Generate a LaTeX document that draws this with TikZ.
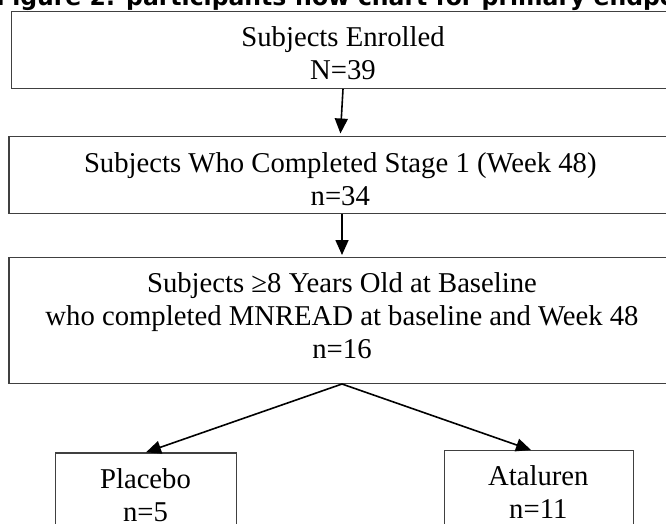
\documentclass[tikz,border=0pt]{standalone}
\usepackage{fontspec}
\setmainfont{Liberation Serif}
\newfontfamily\captionfont{DejaVu Sans}
\usepackage{tikz}
\usetikzlibrary{arrows.meta}
\usepackage{xcolor}
\definecolor{bx}{HTML}{404040}
\definecolor{tx}{HTML}{000000}
\tikzset{
  flowbox/.style = {draw=bx, line width=1.3pt, inner sep=0pt, anchor=north west},
  flowtext/.style = {text=tx, inner sep=0pt, align=center, anchor=base, font=\fontsize{28.7}{33}\selectfont},
  flowarrow/.style = {draw=tx, line width=1.6pt, -{Triangle[length=15pt, width=13pt]}},
}

\begin{document}
\begin{tikzpicture}[x=1pt, y=-1pt]
  \useasboundingbox (0,0) rectangle (666,523);
  \clip (0,0) rectangle (666,523);
  \node[anchor = base west, inner sep = 0pt, font = \captionfont\bfseries\fontsize{23.5}{28}\selectfont] (title) at (-4,5.5) {Figure 2: participants flow chart for primary endpoint};

  \node[flowbox, minimum width = 669pt, minimum height = 77pt] (enrolled) at (11,10.7) {};
  \node[flowbox, minimum width = 672pt, minimum height = 76.7pt] (stage) at (8.3,136) {};
  \node[flowbox, minimum width = 672pt, minimum height = 125.7pt] (aged) at (8.3,257) {};
  \node[flowbox, minimum width = 180.7pt, minimum height = 120pt] (placebo) at (55,452.3) {};
  \node[flowbox, minimum width = 188.7pt, minimum height = 120pt] (ataluren) at (444,450) {};

  \node[flowtext] (enrolledtxt) at (343,79.3) {Subjects Enrolled\\N=39};
  \node[flowtext] (stagetxt) at (340.3,205) {Subjects Who Completed Stage 1 (Week 48)\\n=34};
  \node[flowtext] (agedtxt) at (342,358.5) {Subjects ≥8 Years Old at Baseline\\who completed MNREAD at baseline and Week 48\\n=16};
  \node[flowtext] (placebotxt) at (145.5,521) {Placebo\\n=5};
  \node[flowtext] (atalurentxt) at (538.3,518.5) {Ataluren\\n=11};

  \draw[flowarrow, shorten >= 2.5pt] (enrolled.south -| enrolledtxt.base) -- (stage.north -| stagetxt.base);
  \draw[flowarrow, shorten >= 2pt] (stage.south -| agedtxt.base) -- (aged.north -| agedtxt.base);
  \draw[flowarrow] (aged.south -| agedtxt.base) -- (placebo.north);
  \draw[flowarrow] (aged.south -| agedtxt.base) -- ([xshift=-8pt]ataluren.north);
\end{tikzpicture}
\end{document}
